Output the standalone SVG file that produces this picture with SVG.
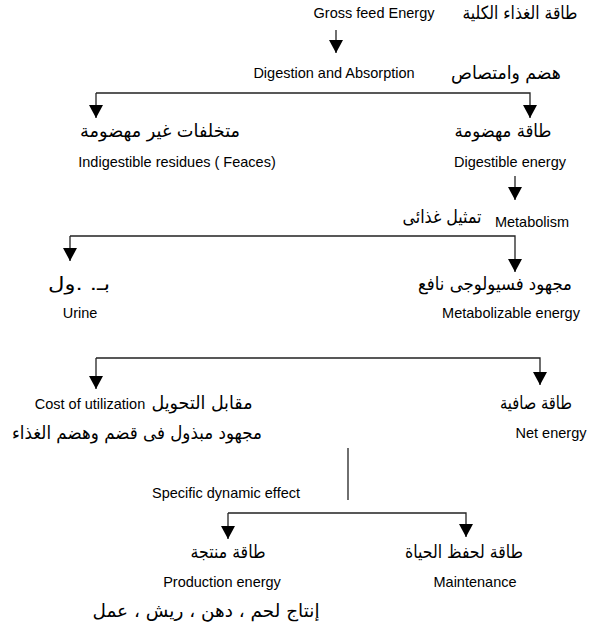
<svg xmlns="http://www.w3.org/2000/svg" width="596" height="633" viewBox="0 0 596 633">
<style>
.en{font-family:"Liberation Sans",Arial,sans-serif;font-size:14.5px;fill:#000;text-anchor:middle}
.ar{font-family:"DejaVu Sans",sans-serif;font-size:18px;fill:#000;text-anchor:middle;direction:rtl}
.ln{fill:none;stroke:#222;stroke-width:1.3}
</style>
<defs>
<marker id="ah" markerUnits="userSpaceOnUse" markerWidth="14" markerHeight="14" viewBox="0 0 14 14" refX="13" refY="7" orient="auto">
<path d="M0,0 L13,7 L0,14 Z" fill="#000"/>
</marker>
</defs>
<rect width="596" height="633" fill="#fff"/>
<g id="connectors">
<path class="ln" d="M336,30 V53" marker-end="url(#ah)"/>
<path class="ln" d="M96,93 H530 V118" marker-end="url(#ah)"/>
<path class="ln" d="M96,93 V118" marker-end="url(#ah)"/>
<path class="ln" d="M515,176 V200" marker-end="url(#ah)"/>
<path class="ln" d="M70,236 H515 V272" marker-end="url(#ah)"/>
<path class="ln" d="M70,236 V261" marker-end="url(#ah)"/>
<path class="ln" d="M96,358 H540 V385" marker-end="url(#ah)"/>
<path class="ln" d="M96,358 V389" marker-end="url(#ah)"/>
<path class="ln" d="M348,448 V500"/>
<path class="ln" d="M228,513 H466 V537" marker-end="url(#ah)"/>
<path class="ln" d="M228,513 V539" marker-end="url(#ah)"/>
</g>
<g id="gross-feed">
<text class="en" x="374" y="18">Gross feed Energy</text>
<text class="ar" x="520" y="19" textLength="115" lengthAdjust="spacingAndGlyphs">طاقة الغذاء الكلية</text>
</g>
<g id="digestion">
<text class="en" x="334" y="78">Digestion and Absorption</text>
<text class="ar" x="506" y="79" textLength="110" lengthAdjust="spacingAndGlyphs">هضم وامتصاص</text>
</g>
<g id="indigestible">
<text class="ar" x="160" y="137" textLength="160" lengthAdjust="spacingAndGlyphs">متخلفات غير مهضومة</text>
<text class="en" x="177" y="167">Indigestible residues ( Feaces)</text>
</g>
<g id="digestible">
<text class="ar" x="503" y="137" textLength="97" lengthAdjust="spacingAndGlyphs">طاقة مهضومة</text>
<text class="en" x="510" y="167">Digestible energy</text>
</g>
<g id="metabolism">
<text class="en" x="532" y="227">Metabolism</text>
<text class="ar" x="442" y="223" textLength="79" lengthAdjust="spacingAndGlyphs">تمثيل غذائى</text>
</g>
<g id="urine">
<text class="ar" x="79" y="290" textLength="62" lengthAdjust="spacingAndGlyphs">بـ. .ول</text>
<text class="en" x="80" y="318">Urine</text>
</g>
<g id="metabolizable">
<text class="ar" x="495" y="290" textLength="154" lengthAdjust="spacingAndGlyphs">مجهود فسيولوجى نافع</text>
<text class="en" x="511" y="318">Metabolizable energy</text>
</g>
<g id="cost">
<text class="en" x="90" y="409">Cost of utilization</text>
<text class="ar" x="202" y="409" textLength="101" lengthAdjust="spacingAndGlyphs">مقابل التحويل</text>
<text class="ar" x="137" y="439" textLength="250" lengthAdjust="spacingAndGlyphs">مجهود مبذول فى قضم وهضم الغذاء</text>
</g>
<g id="net">
<text class="ar" x="536" y="409" textLength="72" lengthAdjust="spacingAndGlyphs">طاقة صافية</text>
<text class="en" x="551" y="438">Net energy</text>
</g>
<g id="sde">
<text class="en" x="226" y="498">Specific dynamic effect</text>
</g>
<g id="production">
<text class="ar" x="228" y="558" textLength="75" lengthAdjust="spacingAndGlyphs">طاقة منتجة</text>
<text class="en" x="222" y="587">Production energy</text>
<text class="ar" x="206" y="617" textLength="227" lengthAdjust="spacingAndGlyphs">إنتاج لحم ، دهن ، ريش ، عمل</text>
</g>
<g id="maintenance">
<text class="ar" x="464" y="558" textLength="118" lengthAdjust="spacingAndGlyphs">طاقة لحفظ الحياة</text>
<text class="en" x="475" y="587">Maintenance</text>
</g>
</svg>
